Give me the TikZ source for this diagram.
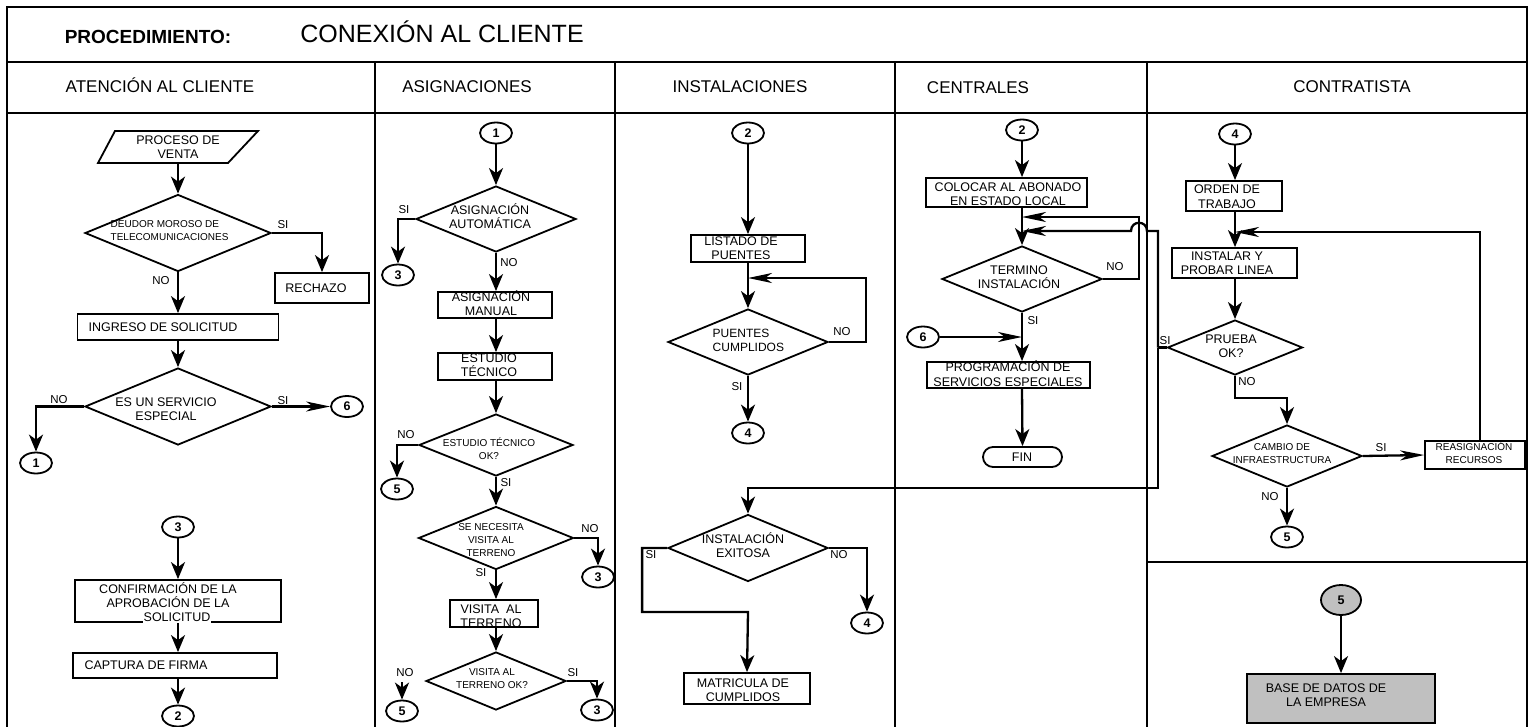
\documentclass[tikz,border=0pt]{standalone}
\usepackage{fontspec}
\setmainfont{Liberation Sans}
\usetikzlibrary{arrows.meta,shapes.geometric}
\definecolor{boxgray}{RGB}{192,192,192}
\begin{document}
\begin{tikzpicture}[x=1pt,y=-1pt,
  frame/.style={line width=2pt},
  shp/.style={draw,line width=1.8pt,inner sep=0pt},
  box/.style={shp,rectangle},
  dia/.style={shp,diamond},
  conn/.style={draw,line width=2.3pt},
  av/.style={conn,-{Stealth[length=17pt,width=14pt,inset=5pt]}},
  ah/.style={conn,-{Stealth[length=24pt,width=10pt,inset=7pt]}},
  txt/.style={align=center,inner sep=0.5pt,font=\fontsize{12.5}{14.5}\selectfont},
  sml/.style={align=center,inner sep=0.5pt,font=\fontsize{10}{13}\selectfont},
  lbl/.style={inner sep=0pt,font=\fontsize{11.5}{13}\selectfont},
  con/.style={shp,ellipse,minimum width=32pt,minimum height=21pt,font=\bfseries\fontsize{12.5}{14}\selectfont},
  hdr/.style={anchor=base,font=\fontsize{17}{20}\selectfont},
]
\useasboundingbox (0,0) rectangle (1529,726);

% ---------- frame, title row and lane headers ----------
\draw[frame] (7,7) rectangle (1527,730);
\draw[frame] (7,62) -- (1527,62);
\draw[frame] (7,113) -- (1527,113);
\foreach \x in {375,615,895,1147} \draw[frame] (\x,62) -- (\x,730);
\draw[frame] (1147,562) -- (1527,562);

\node[anchor=base,font=\bfseries\fontsize{19}{22}\selectfont] (ttl1) at (148,43) {PROCEDIMIENTO:};
\node[anchor=base,font=\fontsize{25}{28}\selectfont] (ttl2) at (442,42) {CONEXIÓN AL CLIENTE};
\node[hdr] (h1) at (160,92) {ATENCIÓN AL CLIENTE};
\node[hdr] (h2) at (467,92) {ASIGNACIONES};
\node[hdr] (h3) at (740,92) {INSTALACIONES};
\node[hdr] (h4) at (978,93) {CENTRALES};
\node[hdr] (h5) at (1352,92) {CONTRATISTA};

% ---------- lane 1: atención al cliente ----------
\node[txt,minimum height=32pt,minimum width=130pt] (pv) at (178,147) {PROCESO DE\\VENTA};
\draw[line width=1.8pt] (115,131) -- (258,131) -- (228,163) -- (98,163) -- cycle;
\node[dia,minimum width=186pt,minimum height=77pt] (d1) at (178,233) {};
\node[sml,align=left,anchor=west] (d1t) at (110,230.5) {DEUDOR MOROSO DE\\TELECOMUNICACIONES};
\node[box,minimum width=94pt,minimum height=30pt] (rech) at (322,288) {};
\node[txt] (recht) at (316,288) {RECHAZO};
\node[box,minimum width=201pt,minimum height=26pt] (ing) at (178,327) {};
\node[txt] (ingt) at (163,327) {INGRESO DE SOLICITUD};
\node[dia,minimum width=186pt,minimum height=77pt] (d2) at (178,406.5) {};
\node[txt] (d2t) at (166,409) {ES UN SERVICIO\\ESPECIAL};
\node[con] (c6a) at (347,406.5) {6};
\node[con] (c1a) at (36,463) {1};
\node[con] (c3a) at (178,527) {3};
\node[box,minimum width=206pt,minimum height=42pt] (conf) at (178,601) {};
\node[txt] (conft) at (168,595) {CONFIRMACIÓN DE LA\\APROBACIÓN DE LA};
\node[txt,fill=white,inner ysep=3pt] (conft2) at (177,617) {SOLICITUD};
\node[box,minimum width=204pt,minimum height=25pt] (cap) at (175,665.5) {};
\node[txt] (capt) at (146,665.5) {CAPTURA DE FIRMA};
\node[con] (c2a) at (178,716) {2};

\draw[av] (pv.south) -- (pv.south |- d1.north);
\draw[av] (d1.east) -| (rech.north);
\draw[av] (d1.south) -- (ing.north);
\draw[av] (ing.south) -- (d2.north);
\draw[ah] (d2.east) -- (c6a.west);
\draw[av] (d2.west) -| (c1a.north);
\draw[av] (c3a.south) -- (conf.north);
\draw[av] (conf.south) -- (c2a.north |- cap.north);
\draw[av] (c2a.north |- cap.south) -- (c2a.north);

\node[lbl] (l1) at (283,225) {SI};
\node[lbl] (l2) at (161,281) {NO};
\node[lbl] (l3) at (283,401) {SI};
\node[lbl] (l4) at (59,400) {NO};

% ---------- lane 2: asignaciones ----------
\node[con] (c1b) at (496,133) {1};
\node[dia,minimum width=160pt,minimum height=66pt] (d3) at (496,219) {};
\node[txt] (d3t) at (490,216) {ASIGNACIÓN\\AUTOMÁTICA};
\node[con] (c3b) at (398,275) {3};
\node[box,minimum width=114pt,minimum height=26pt] (man) at (495,305) {};
\node[txt] (mant) at (491,303) {ASIGNACIÓN\\MANUAL};
\node[box,minimum width=114pt,minimum height=27pt] (est) at (495,366.5) {};
\node[txt] (estt) at (489,365) {ESTUDIO\\TÉCNICO};
\node[dia,minimum width=154pt,minimum height=62pt] (d4) at (496,445) {};
\node[sml] (d4t) at (489,449) {ESTUDIO TÉCNICO\\OK?};
\node[con] (c5b) at (397,489) {5};
\node[dia,minimum width=155pt,minimum height=63pt] (d5) at (496,538) {};
\node[sml] (d5t) at (491,540) {SE NECESITA\\VISITA AL\\TERRENO};
\node[con] (c3c) at (598,577) {3};
\node[box,minimum width=88pt,minimum height=27pt] (vis) at (494,613.5) {};
\node[txt] (vist) at (491,616) {VISITA~~AL\\TERRENO};
\node[dia,minimum width=140pt,minimum height=58pt] (d6) at (496,681) {};
\node[sml] (d6t) at (492,679) {VISITA AL\\TERRENO OK?};
\coordinate (n5) at (402,682);
\node[con] (c5c) at (402,711) {5};
\node[con] (c3d) at (597,710) {3};

\draw[av] (c1b.south) -- (d3.north);
\draw[av] (d3.west) -| (c3b.north);
\draw[av] (d3.south) -- (d3.south |- man.north);
\draw[av] (d3.south |- man.south) -- (d3.south |- est.north);
\draw[av] (d3.south |- est.south) -- (d4.north);
\draw[av] (d4.west) -| (c5b.north);
\draw[av] (d4.south) -- (d5.north);
\draw[av] (d5.east) -| (c3c.north);
\draw[av] (d5.south) -- (d5.south |- vis.north);
\draw[av] (d5.south |- vis.south) -- (d6.north);
\draw[av] (n5) -- (c5c.north);
\draw[av] (d6.east) -| (c3d.north);

\node[lbl] (l5) at (404,210) {SI};
\node[lbl] (l6) at (509,263) {NO};
\node[lbl] (l7) at (406,435) {NO};
\node[lbl] (l8) at (506,483) {SI};
\node[lbl] (l9) at (590,529) {NO};
\node[lbl] (l10) at (481,573) {SI};
\node[lbl] (l11) at (405,673) {NO};
\node[lbl] (l12) at (573,673) {SI};

% ---------- lane 3: instalaciones ----------
\node[con] (c2b) at (748,133) {2};
\node[box,minimum width=114pt,minimum height=27pt] (lp) at (748,248.5) {};
\node[txt] (lpt) at (741,248) {LISTADO DE\\PUENTES};
\node[dia,minimum width=160pt,minimum height=66pt] (d7) at (748,342) {};
\node[txt,align=left,anchor=west,font=\fontsize{12}{14}\selectfont] (d7t) at (712,340) {PUENTES\\CUMPLIDOS};
\coordinate (lj) at (748,278);
\node[con] (c4a) at (748,433) {4};
\coordinate (ej) at (748,488);
\node[dia,minimum width=160pt,minimum height=67pt] (d8) at (748,548) {};
\node[txt] (d8t) at (743,545) {INSTALACIÓN\\EXITOSA};
\coordinate (mj) at (748,612);
\node[box,minimum width=126pt,minimum height=31pt] (mat) at (747,688.5) {};
\node[txt] (matt) at (743,690) {MATRICULA DE\\CUMPLIDOS};
\node[con] (c4b) at (867,623) {4};

\draw[av] (c2b.south) -- (lp.north);
\draw[av] (lp.south) -- (d7.north);
\draw[ah] (d7.east) -- ++(37,0) |- (lj);
\draw[av] (d7.south) -- (c4a.north);
\draw[av] (d8.west) -- ++(-25,0) |- (mj) -- (mat.north);
\draw[av] (d8.east) -| (c4b.north);

\node[lbl] (l13) at (842,332) {NO};
\node[lbl] (l14) at (737,387) {SI};
\node[lbl] (l15) at (651,555) {SI};
\node[lbl] (l16) at (839,555) {NO};

% ---------- lane 4: centrales ----------
\node[con] (c2c) at (1022,130) {2};
\node[box,minimum width=161pt,minimum height=29pt] (col) at (1006.5,192.5) {};
\node[txt] (colt) at (1008,194) {COLOCAR AL ABONADO\\EN ESTADO LOCAL};
\coordinate (tj1) at (1022,217);
\coordinate (tj2) at (1022,231);
\node[dia,minimum width=160pt,minimum height=66pt] (d9) at (1022,279) {};
\node[txt] (d9t) at (1019,277) {TERMINO\\INSTALACIÓN};
\node[con] (c6b) at (923,337) {6};
\coordinate (tj3) at (1022,337);
\node[box,minimum width=163pt,minimum height=26pt] (prog) at (1008.5,375) {};
\node[txt] (progt) at (1008,373.5) {PROGRAMACIÓN DE\\SERVICIOS ESPECIALES};
\node[box,rounded corners=10pt,minimum width=79pt,minimum height=20pt] (fin) at (1022.5,457) {};
\node[txt] (fint) at (1022,457) {FIN};

\draw[av] (c2c.south) -- (c2c.south |- col.north);
\draw[av] (c2c.south |- col.south) -- (d9.north);
\draw[ah] (d9.east) -- ++(36,0) |- (tj1);
\draw[av] (d9.south) -- (d9.south |- prog.north);
\draw[ah] (c6b.east) -- (tj3);
\draw[av] (d9.south |- prog.south) -- (fin.north);

\node[lbl] (l17) at (1115,267) {NO};
\node[lbl] (l18) at (1033,321) {SI};

% ---------- lane 5: contratista ----------
\node[con] (c4c) at (1235,134) {4};
\node[box,minimum width=96pt,minimum height=30pt] (ord) at (1234,196) {};
\node[txt] (ordt) at (1227,196.5) {ORDEN DE\\TRABAJO};
\coordinate (ij) at (1235,232);
\node[box,minimum width=125pt,minimum height=30pt] (ins) at (1234.5,263) {};
\node[txt] (inst) at (1227,263) {INSTALAR Y\\PROBAR LINEA};
\node[dia,minimum width=135pt,minimum height=55pt] (d10) at (1235,347.5) {};
\node[txt] (d10t) at (1231,346.5) {PRUEBA\\OK?};
\coordinate (sj) at (1158,347.5);
\node[dia,minimum width=150pt,minimum height=62pt] (d11) at (1287,456) {};
\node[sml] (d11t) at (1282,454) {CAMBIO DE\\INFRAESTRUCTURA};
\node[box,minimum width=100pt,minimum height=28pt] (reas) at (1475,455) {};
\node[sml] (reast) at (1474,453) {REASIGNACIÓN\\RECURSOS};
\node[con] (c5d) at (1287,537) {5};
\node[con,fill=boxgray,minimum width=40pt,minimum height=30pt] (c5e) at (1341,600) {5};
\node[box,fill=boxgray,minimum width=188pt,minimum height=49pt] (base) at (1341,698.5) {};
\node[txt] (baset) at (1326,695) {BASE DE DATOS DE\\LA EMPRESA};

\draw[av] (c4c.south) -- (c4c.south |- ord.north);
\draw[av] (c4c.south |- ord.south) -- (c4c.south |- ins.north);
\draw[ah] ([xshift=5pt]reas.north) |- (ij);
\draw[av] (c4c.south |- ins.south) -- (d10.north);
\draw[conn] (d10.west) -- (sj);
\draw[ah] (sj) -- (1158,231) -- (1147,231) .. controls (1147,220) and (1131,220) .. (1131,231) -- (tj2);
\draw[av] (sj) |- (ej) -- (d8.north);
\draw[av] (d10.south) -- ++(0,22) -| (d11.north);
\draw[ah] (d11.east) -- (reas.west);
\draw[av] (d11.south) -- (c5d.north);
\draw[av] (c5e.south) -- (base.north);

\node[lbl] (l19) at (1165,341) {SI};
\node[lbl] (l20) at (1247,382) {NO};
\node[lbl] (l21) at (1381,448) {SI};
\node[lbl] (l22) at (1270,497) {NO};
\end{tikzpicture}
\end{document}
